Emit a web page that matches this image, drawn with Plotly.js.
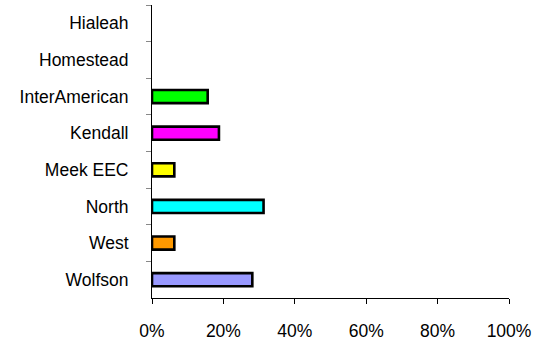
<!DOCTYPE html>
<html>
<head>
<meta charset="utf-8">
<script src="https://cdn.plot.ly/plotly-3.0.1.min.js"></script>
<style>html,body{margin:0;padding:0;background:#fff;}#chart{width:539px;height:343px;}</style>
</head>
<body>
<div id="chart"></div>
<script>
const categories = ["Hialeah", "Homestead", "InterAmerican", "Kendall", "Meek EEC", "North", "West", "Wolfson"];
const values = [0, 0, 0.156, 0.1875, 0.0625, 0.3125, 0.0625, 0.281];
const barColors = ["#00FF00", "#00FF00", "#00FF00", "#FF00FF", "#FFFF00", "#00FFFF", "#FF9900", "#9999FF"];
const xTickVals = [0, 0.2, 0.4, 0.6, 0.8, 1.0];
const xTickText = ["0%", "20%", "40%", "60%", "80%", "100%"];

const trace = {
  type: "bar",
  orientation: "h",
  y: categories,
  x: values,
  width: 0.36,
  marker: {
    color: barColors,
    line: { color: "#000000", width: values.map(v => (v > 0 ? 2.6 : 0)) }
  },
  hoverinfo: "none"
};

const layout = {
  width: 539, height: 343,
  margin: { l: 152, r: 30, t: 5, b: 45 },
  paper_bgcolor: "#ffffff", plot_bgcolor: "#ffffff",
  font: { family: "Liberation Sans, Arial, sans-serif", size: 17.5, color: "#000000" },
  showlegend: false,
  xaxis: {
    range: [0, 1], tickvals: xTickVals, ticktext: xTickText,
    showgrid: false, zeroline: false, showline: true, linecolor: "#000", linewidth: 1,
    ticks: "outside", ticklen: 5, tickcolor: "#000", ticklabelstandoff: 12,
    fixedrange: true
  },
  yaxis: {
    type: "category", autorange: "reversed", range: [-0.5, 7.5],
    showgrid: false, zeroline: false, showline: true, linecolor: "#000", linewidth: 1,
    ticks: "outside", ticklen: 5, tickcolor: "#888", tickson: "boundaries",
    ticklabelstandoff: 19, fixedrange: true
  },
  bargap: 0.6
};

Plotly.newPlot("chart", [trace], layout, { displayModeBar: false, staticPlot: true });
</script>
</body>
</html>
